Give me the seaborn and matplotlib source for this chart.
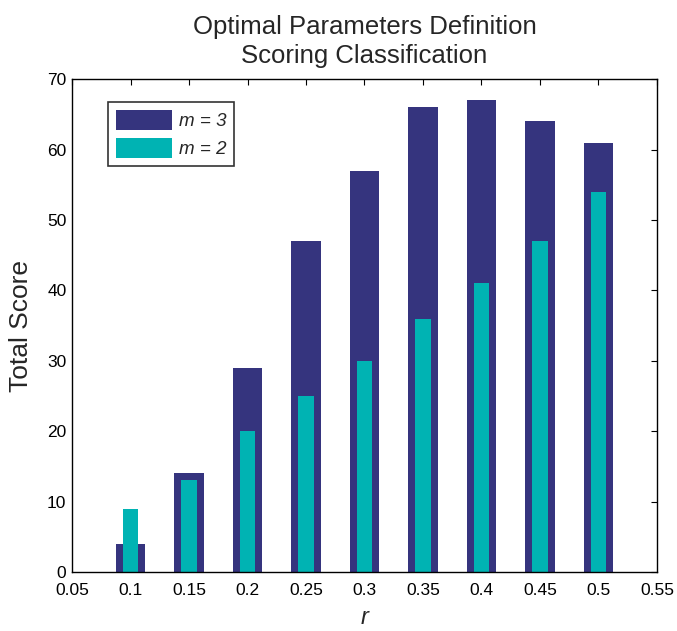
import matplotlib
matplotlib.use("Agg")
import matplotlib.pyplot as plt
from matplotlib.patches import Patch
import seaborn as sns
import pandas as pd

# r parameter and total scores for each embedding dimension m
r_values = [0.10, 0.15, 0.20, 0.25, 0.30, 0.35, 0.40, 0.45, 0.50]
score_m3 = [4, 14, 29, 47, 57, 66, 67, 64, 61]
score_m2 = [9, 13, 20, 25, 30, 36, 41, 47, 54]
x_ticks = [0.05, 0.10, 0.15, 0.20, 0.25, 0.30, 0.35, 0.40, 0.45, 0.50, 0.55]
x_tick_labels = ["0.05", "0.1", "0.15", "0.2", "0.25", "0.3", "0.35", "0.4", "0.45", "0.5", "0.55"]
y_ticks = [0, 10, 20, 30, 40, 50, 60, 70]

color_m3 = "#35347E"
color_m2 = "#00B3B3"

sns.set_theme(style="white")
plt.rcParams["font.family"] = ["Liberation Sans", "DejaVu Sans"]

df3 = pd.DataFrame({"r": r_values, "score": score_m3})
df2 = pd.DataFrame({"r": r_values, "score": score_m2})

fig = plt.figure(figsize=(6.77, 6.31), dpi=100)
ax = fig.add_axes([0.1064, 0.0935, 0.864, 0.781])

sns.barplot(data=df3, x="r", y="score", native_scale=True, width=0.51,
            color=color_m3, saturation=1, linewidth=0, ax=ax)
sns.barplot(data=df2, x="r", y="score", native_scale=True, width=0.26,
            color=color_m2, saturation=1, linewidth=0, ax=ax)

ax.set_xlim(0.05, 0.55)
ax.set_ylim(0, 70)
ax.set_xticks(x_ticks)
ax.set_xticklabels(x_tick_labels)
ax.set_yticks(y_ticks)
ax.tick_params(direction="in", length=4, width=0.8, top=True, right=True,
               labelsize=12.5, colors="black")
ax.tick_params(axis="x", pad=8)
ax.tick_params(axis="y", pad=4)
for side in ax.spines.values():
    side.set_color("black")
    side.set_linewidth(1.0)

ax.set_xlabel("r", fontsize=17, style="italic", labelpad=6)
ax.set_ylabel("Total Score", fontsize=19, labelpad=10)
ax.set_title("Optimal Parameters Definition\nScoring Classification", fontsize=18.5,
             pad=12, linespacing=1.25)

handles = [Patch(facecolor=color_m3, edgecolor="none", label="m = 3"),
           Patch(facecolor=color_m2, edgecolor="none", label="m = 2")]
leg = ax.legend(handles=handles, loc="upper left", bbox_to_anchor=(0.062, 0.953),
                prop={"size": 13.5, "style": "italic"}, frameon=True, fancybox=False,
                handlelength=3.0, handleheight=1.3, handletextpad=0.35,
                borderpad=0.4, labelspacing=0.4, borderaxespad=0)
leg.get_frame().set_edgecolor("black")
leg.get_frame().set_linewidth(1.2)

fig.savefig("out.png", dpi=100)
